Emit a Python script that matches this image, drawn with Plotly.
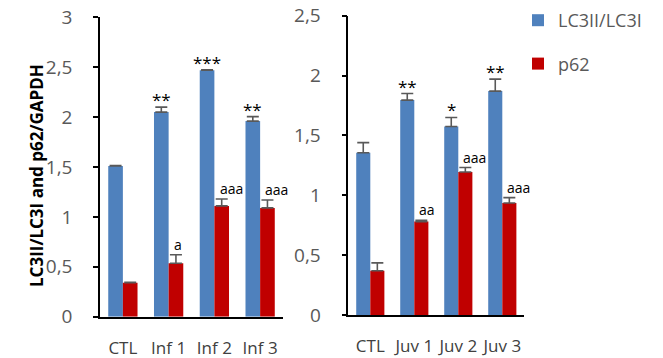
import plotly.graph_objects as go

# ---- data ----
cats_left = ["CTL", "Inf 1", "Inf 2", "Inf 3"]
cats_right = ["CTL", "Juv 1", "Juv 2", "Juv 3"]

lc3_left = [1.51, 2.05, 2.47, 1.96]
lc3_left_err = [0.005, 0.05, 0.005, 0.045]
p62_left = [0.34, 0.535, 1.11, 1.09]
p62_left_err = [0.005, 0.085, 0.07, 0.08]

lc3_right = [1.355, 1.795, 1.575, 1.87]
lc3_right_err = [0.085, 0.055, 0.075, 0.10]
p62_right = [0.37, 0.78, 1.195, 0.935]
p62_right_err = [0.065, 0.012, 0.037, 0.045]

star_left = ["", "**", "***", "**"]
letter_left = ["", "a", "aaa", "aaa"]
star_right = ["", "**", "*", "**"]
letter_right = ["", "aa", "aaa", "aaa"]

yticks_left = [0, 0.5, 1, 1.5, 2, 2.5, 3]
yticks_left_text = ["0", "0,5", "1", "1,5", "2", "2,5", "3"]
yticks_right = [0, 0.5, 1, 1.5, 2, 2.5]
yticks_right_text = ["0", "0,5", "1", "1,5", "2", "2,5"]

BLUE = "#4F81BD"
RED = "#C00000"
ERR = "#595959"
W = 0.32
FONT = "Open Sans"

fig = go.Figure()

def add_panel(cats, lc3, lc3e, p62, p62e, xa, ya, show):
    idx = list(range(len(cats)))
    fig.add_trace(go.Bar(
        x=idx, y=lc3, width=W, offset=-W, name="LC3II/LC3I",
        marker=dict(color=BLUE, line=dict(width=0)),
        error_y=dict(type="data", array=lc3e, arrayminus=[0]*len(cats), symmetric=False,
                     color=ERR, thickness=1.6, width=6),
        xaxis=xa, yaxis=ya, showlegend=show, legendgroup="lc3"))
    fig.add_trace(go.Bar(
        x=idx, y=p62, width=W, offset=0, name="p62",
        marker=dict(color=RED, line=dict(width=0)),
        error_y=dict(type="data", array=p62e, arrayminus=[0]*len(cats), symmetric=False,
                     color=ERR, thickness=1.6, width=6),
        xaxis=xa, yaxis=ya, showlegend=show, legendgroup="p62"))

add_panel(cats_left, lc3_left, lc3_left_err, p62_left, p62_left_err, "x", "y", True)
add_panel(cats_right, lc3_right, lc3_right_err, p62_right, p62_right_err, "x2", "y2", False)

def add_labels(stars, letters, lc3, lc3e, p62, p62e, xref, yref):
    for i in range(len(stars)):
        if stars[i]:
            fig.add_annotation(x=i - W / 2, y=lc3[i] + lc3e[i], xref=xref, yref=yref,
                               text=stars[i], showarrow=False, xanchor="center", yanchor="bottom",
                               yshift=-6, font=dict(family=FONT, size=17, color="black"))
        if letters[i]:
            fig.add_annotation(x=i + W / 2, y=p62[i] + p62e[i], xref=xref, yref=yref,
                               text=letters[i], showarrow=False, xanchor="left", yanchor="bottom",
                               xshift=-4, yshift=-1, font=dict(family=FONT, size=14, color="black"))

add_labels(star_left, letter_left, lc3_left, lc3_left_err, p62_left, p62_left_err, "x", "y")
add_labels(star_right, letter_right, lc3_right, lc3_right_err, p62_right, p62_right_err, "x2", "y2")

fig.add_annotation(x=37 / 663, y=1 - 176 / 358, xref="paper", yref="paper",
                   xanchor="center", yanchor="middle",
                   text="<b>LC3II/LC3I and p62/GAPDH</b>", textangle=-90, showarrow=False,
                   font=dict(family=FONT, size=17, color="black"))

xcommon = dict(range=[-0.5, 3.5], tickmode="array", tickvals=[0, 1, 2, 3], showline=True,
               linecolor="black", linewidth=1.5, ticks="", showgrid=False, zeroline=False,
               tickfont=dict(family=FONT, size=17, color="#404040"), ticklabelstandoff=15,
               fixedrange=True, automargin=False)
ycommon = dict(tickmode="array", showline=True, linecolor="black", linewidth=1.5,
               ticks="outside", ticklen=5, tickwidth=1.5, tickcolor="black",
               showgrid=False, zeroline=False, automargin=False,
               tickfont=dict(family=FONT, size=19, color="#595959"), ticklabelstandoff=17)

fig.update_layout(
    width=663, height=358,
    margin=dict(l=0, r=0, t=0, b=0, autoexpand=False),
    paper_bgcolor="white", plot_bgcolor="white",
    font=dict(family=FONT),
    barmode="overlay",
    xaxis=dict(xcommon, domain=[100 / 663, 283 / 663], ticktext=cats_left, anchor="y"),
    yaxis=dict(ycommon, domain=[1 - 316.7 / 358, 1 - 17.3 / 358], range=[0, 3],
               tickvals=yticks_left, ticktext=yticks_left_text, anchor="x"),
    xaxis2=dict(xcommon, domain=[348.3 / 663, 524.3 / 663], ticktext=cats_right, anchor="y2"),
    yaxis2=dict(ycommon, domain=[1 - 315 / 358, 1 - 15.7 / 358], range=[0, 2.5],
                tickvals=yticks_right, ticktext=yticks_right_text, anchor="x2"),
    legend=dict(x=518 / 663, y=1 - 2 / 358, xanchor="left", yanchor="top",
                font=dict(family=FONT, size=18, color="#595959"),
                tracegroupgap=17, traceorder="grouped", bgcolor="rgba(0,0,0,0)"),
    showlegend=True,
)

fig.write_html("out.html", config={"displayModeBar": False},
               post_script="document.body.style.margin='0';")
